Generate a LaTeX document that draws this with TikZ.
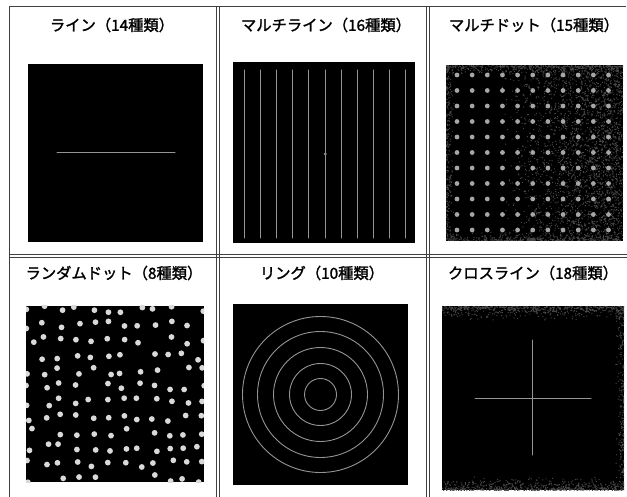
\documentclass[tikz,border=0pt]{standalone}
\usepackage{fontspec}
\newfontfamily\jp{Noto Sans CJK JP}[FakeBold=1.6]
\begin{document}
\begin{tikzpicture}[x=1pt,y=-1pt,
  frame/.style={draw=black!75,line width=0.8pt},
  title/.style={font=\jp\fontsize{15.3}{15.3}\selectfont,inner sep=0pt,anchor=center},
  pane/.style={fill=black},
  ray/.style={draw=black!42,line width=1pt,line cap=round},
  speck/.style={fill=black!72},
  mdot/.style={fill=black!35},
  rdot/.style={fill=white!85!black}]
\useasboundingbox (0,0) rectangle (627,497);
\pgfmathsetseed{12345}
% frame
\coordinate (tl) at (9,6);
\coordinate (tr) at (626,6);
\coordinate (bl) at (9,497);
\draw[frame] (bl) -- (tl) -- (tr);
\foreach \x/\n in {216/a,219/b,426/c,429/d}{
  \coordinate (v\n1) at (\x,6); \coordinate (v\n2) at (\x,497);
  \draw[frame] (v\n1) -- (v\n2);}
\foreach \y/\n in {254/a,257/b}{
  \coordinate (h\n1) at (9,\y); \coordinate (h\n2) at (627,\y);
  \draw[frame] (h\n1) -- (h\n2);}
% titles
\node[title] (t1) at (112,25) {ライン（14種類）};
\node[title] (t2) at (326,25) {マルチライン（16種類）};
\node[title] (t3) at (534,25) {マルチドット（15種類）};
\node[title] (t4) at (114,273) {ランダムドット（8種類）};
\node[title] (t5) at (322,273) {リング（10種類）};
\node[title] (t6) at (533,273) {クロスライン（18種類）};
% panel 1: line
\fill[pane] (28,64) rectangle (203,242);
\coordinate (l1a) at (57,153); \coordinate (l1b) at (175,153);
\draw[ray] (l1a) -- (l1b);
% panel 2: multiline
\fill[pane] (233,62) rectangle (415,243);
\foreach \k in {0,...,10}{
  \coordinate (m\k a) at ({244.3+\k*16.14},70);
  \coordinate (m\k b) at ({244.3+\k*16.14},238);
  \draw[ray] (m\k a) -- (m\k b);}
\fill[black!45] (325.3,154) circle (1.6);
% panel 3: multidot
\fill[pane] (446,65) rectangle (623,241);
\begin{scope}
\clip (446,65) rectangle (623,241);
\fill[speck] \foreach \i in {1,...,2600}{ ({500+123*sqrt(rnd)},{65+176*rnd}) rectangle ++(1,1) };
\fill[speck] \foreach \i in {1,...,450}{ ({446+177*rnd},{65+10*rnd*rnd}) rectangle ++(1,1) };
\fill[speck] \foreach \i in {1,...,450}{ ({446+177*rnd},{241-10*rnd*rnd}) rectangle ++(1,1) };
\fill[speck] \foreach \i in {1,...,250}{ ({446+8*rnd*rnd},{65+176*rnd}) rectangle ++(1,1) };
\end{scope}
\foreach \i in {0,...,10}{\foreach \j in {0,...,10}{
  \fill[mdot] ({457+\i*15.15},{75+\j*15.5}) circle (2.4);}}
% panel 4: random dots
\fill[pane] (26,306) rectangle (204,482);
\begin{scope}
\clip (26,306) rectangle (204,482);
\foreach \i in {0,...,11}{\foreach \j in {0,...,11}{
  \pgfmathsetmacro\px{30+\i*15.5+(rnd-0.5)*8}
  \pgfmathsetmacro\py{310+\j*15.3+(rnd-0.5)*8}
  \pgfmathsetmacro\keep{rnd}
  \ifdim\keep pt<0.92pt \fill[rdot] (\px,\py) circle (2.9);\fi}}
\end{scope}
% panel 5: rings
\fill[pane] (233,304) rectangle (408,485);
\coordinate (rc) at (320.5,394.5);
\foreach \r in {16,31,47,63,78}{\draw[ray,line width=0.9pt] (rc) circle (\r);}
% panel 6: cross
\fill[pane] (442,306) rectangle (624,490);
\begin{scope}
\clip (442,306) rectangle (624,490);
\fill[speck] \foreach \i in {1,...,600}{ ({442+182*rnd},{306+14*rnd*rnd}) rectangle ++(1,1) };
\fill[speck] \foreach \i in {1,...,600}{ ({442+182*rnd},{490-14*rnd*rnd}) rectangle ++(1,1) };
\fill[speck] \foreach \i in {1,...,300}{ ({624-10*rnd*rnd},{306+184*rnd}) rectangle ++(1,1) };
\end{scope}
\coordinate (cxa) at (475,398); \coordinate (cxb) at (591,398);
\coordinate (cya) at (532,340); \coordinate (cyb) at (532,455);
\draw[ray] (cxa) -- (cxb);
\draw[ray] (cya) -- (cyb);
\end{tikzpicture}
\end{document}
